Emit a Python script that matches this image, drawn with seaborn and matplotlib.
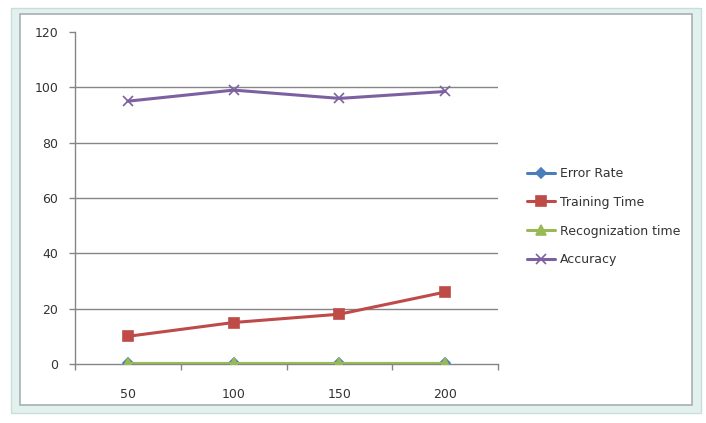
import matplotlib
matplotlib.use("Agg")
import matplotlib.pyplot as plt
from matplotlib.patches import Rectangle
import seaborn as sns
import pandas as pd

# Chart data
sizes = ["50", "100", "150", "200"]
error_rate = [0.3, 0.3, 0.3, 0.3]
training_time = [10, 15, 18, 26]
recognition_time = [0.5, 0.5, 0.5, 0.5]
accuracy = [95, 99, 96, 98.5]

series_names = ["Error Rate", "Training Time", "Recognization time", "Accuracy"]
series_values = [error_rate, training_time, recognition_time, accuracy]
colors = ["#4A7EBB", "#BE4B48", "#98B954", "#7D60A0"]
markers = ["D", "s", "^", "x"]
y_ticks = [0, 20, 40, 60, 80, 100, 120]

sns.set_theme(style="white")
plt.rcParams["font.family"] = ["DejaVu Sans"]

fig = plt.figure(figsize=(7.06, 4.23), dpi=100)
W, H = 706, 423

# outer selection frame
fig.patches.append(Rectangle((11 / W, 1 - 413 / H), 690 / W, 405 / H,
                             transform=fig.transFigure, facecolor="#E3F1EE",
                             edgecolor="#C9DDD9", lw=1, zorder=-2))
fig.patches.append(Rectangle((20 / W, 1 - 405 / H), 672 / W, 391 / H,
                             transform=fig.transFigure, facecolor="white",
                             edgecolor="#A8B0B0", lw=1.2, zorder=-1))

ax = fig.add_axes([75 / W, 1 - 364 / H, 423 / W, 332 / H])
ax.set_facecolor("none")

for name, vals, c, m in zip(series_names, series_values, colors, markers):
    d = pd.DataFrame({"size": sizes, "value": vals})
    sns.lineplot(data=d, x="size", y="value", color=c, marker=m, lw=2.2,
                 markersize=7 if m != "D" else 5, markeredgewidth=1.2,
                 markeredgecolor=c, ax=ax, sort=False, label=name, zorder=3)

ax.set_xlim(-0.5, 3.5)
ax.set_ylim(0, 120)
ax.set_yticks(y_ticks)
ax.set_xlabel("")
ax.set_ylabel("")

# gridlines
for v in y_ticks[1:-1]:
    ax.axhline(v, color="#858585", lw=1.0, zorder=1)

for side in ["top", "right"]:
    ax.spines[side].set_visible(False)
ax.spines["left"].set_color("#858585")
ax.spines["bottom"].set_color("#858585")
ax.spines["left"].set_linewidth(1.0)
ax.spines["bottom"].set_linewidth(1.0)

ax.tick_params(axis="y", which="major", left=True, length=4, width=1,
               color="#858585", labelsize=9, labelcolor="#333333", pad=8)
ax.tick_params(axis="x", which="major", bottom=False, labelsize=9,
               labelcolor="#333333", pad=11)
ax.set_xticks([-0.5, 0.5, 1.5, 2.5, 3.5], minor=True)
ax.tick_params(axis="x", which="minor", bottom=True, length=4, width=1,
               color="#858585")

handles, labels = ax.get_legend_handles_labels()
ax.legend(handles, labels, loc="upper left", bbox_to_anchor=(516 / W, 1 - 156 / H),
          bbox_transform=fig.transFigure, frameon=False, fontsize=9,
          labelspacing=1.25, handlelength=2.2, handletextpad=0.4,
          labelcolor="#333333")

fig.savefig("out.png", dpi=100)
